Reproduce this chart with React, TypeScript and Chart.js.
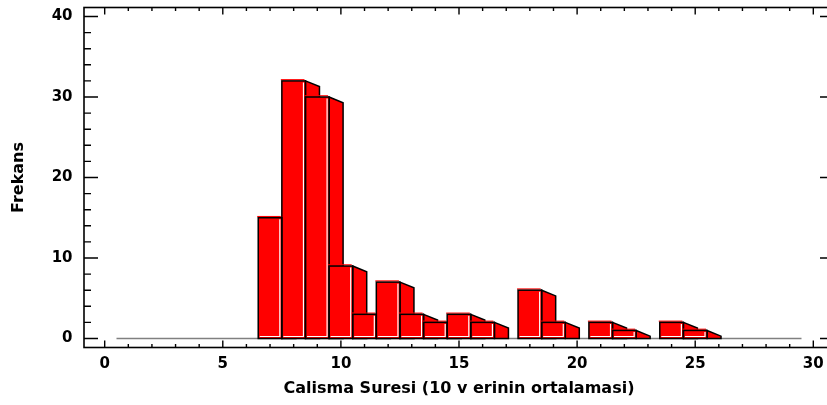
import { useEffect, useRef } from "react";
import { Chart, registerables } from "chart.js";

Chart.register(...registerables);

// Histogram classes: bin centres (class width 1) and their frequencies
const BIN_CENTERS = [1, 2, 3, 4, 5, 6, 7, 8, 9, 10, 11, 12, 13, 14, 15, 16, 17, 18, 19, 20, 21, 22, 23, 24, 25, 26, 27, 28, 29];
const FREQUENCIES = [0, 0, 0, 0, 0, 0, 15, 32, 30, 9, 3, 7, 3, 2, 3, 2, 0, 6, 2, 0, 2, 1, 0, 2, 1, 0, 0, 0, 0];
const BIN_WIDTH = 1;

// Axes
const X_TICKS = [0, 5, 10, 15, 20, 25, 30];
const Y_TICKS = [0, 10, 20, 30, 40];
const X_MINOR_STEP = 1;
const Y_MINOR_STEP = 2;
const X_RANGE = [-0.876, 30.876];
const Y_RANGE = [-1.12, 41.12];

const X_TITLE = "Calisma Suresi (10 v erinin ortalamasi)";
const Y_TITLE = "Frekans";

// Look
const CANVAS_W = 842;
const CANVAS_H = 405;
const PLOT_LEFT = 84;
const PLOT_TOP = 7.5;
const PLOT_RIGHT = 834;
const PLOT_BOTTOM = 347.5;
const RED = "#ff0000";
const INK = "#000000";
const ZERO_LINE = "#808080";
const DEPTH_X = 14;
const DEPTH_Y = 5.7;
const FONT_FAMILY = "'DejaVu Sans', 'Liberation Sans', Arial, sans-serif";
const TICK_FONT = { family: FONT_FAMILY, size: 15, weight: "bold" as const };
const TITLE_FONT = { family: FONT_FAMILY, size: 16, weight: "bold" as const };

const dropScalePadding = (scale: any) => {
  scale.paddingTop = 0;
  scale.paddingBottom = 0;
  scale.paddingLeft = 0;
  scale.paddingRight = 0;
};

const histogram3d = {
  id: "histogram3d",
  beforeDatasetsDraw(chart: any) {
    const { ctx } = chart;
    const x = chart.scales.x;
    const y = chart.scales.y;
    const lo = BIN_CENTERS[0] - BIN_WIDTH / 2;
    const hi = BIN_CENTERS[BIN_CENTERS.length - 1] + BIN_WIDTH / 2;
    ctx.save();
    // zero line over the whole class range
    ctx.strokeStyle = ZERO_LINE;
    ctx.lineWidth = 1.5;
    ctx.beginPath();
    ctx.moveTo(x.getPixelForValue(lo), y.getPixelForValue(0));
    ctx.lineTo(x.getPixelForValue(hi), y.getPixelForValue(0));
    ctx.stroke();

    // side faces, each one later hidden behind the next bar's front
    const meta = chart.getDatasetMeta(0);
    meta.data.forEach((bar: any, i: number) => {
      if (!FREQUENCIES[i]) return;
      const { x: cx, y: top, base, width } = bar.getProps(["x", "y", "base", "width"], true);
      const right = cx + width / 2;
      ctx.beginPath();
      ctx.moveTo(right, top);
      ctx.lineTo(right + DEPTH_X, Math.min(top + DEPTH_Y, base));
      ctx.lineTo(right + DEPTH_X, base);
      ctx.lineTo(right, base);
      ctx.closePath();
      ctx.fillStyle = RED;
      ctx.fill();
      ctx.strokeStyle = INK;
      ctx.lineWidth = 1.5;
      ctx.lineJoin = "miter";
      ctx.stroke();
    });
    ctx.restore();
  },
  afterDatasetsDraw(chart: any) {
    const { ctx } = chart;
    const meta = chart.getDatasetMeta(0);
    ctx.save();
    meta.data.forEach((bar: any, i: number) => {
      if (!FREQUENCIES[i]) return;
      const { x: cx, y: top, base, width } = bar.getProps(["x", "y", "base", "width"], true);
      const left = cx - width / 2;
      const right = cx + width / 2;
      // red lip above the top edge
      ctx.fillStyle = RED;
      ctx.fillRect(left - 1, top - 1.8, width, 1.2);
      // light edges on the right and bottom of the front face
      ctx.strokeStyle = "#ffffff";
      ctx.lineWidth = 1.2;
      ctx.beginPath();
      ctx.moveTo(right - 2, top + 1.5);
      ctx.lineTo(right - 2, base - 2);
      ctx.lineTo(left + 1.5, base - 2);
      ctx.stroke();
      // outline
      ctx.strokeStyle = INK;
      ctx.lineWidth = 1.5;
      ctx.strokeRect(left, top, width, base - top);
    });
    ctx.restore();
  },
  afterDraw(chart: any) {
    const { ctx, chartArea } = chart;
    const { left, right, top, bottom } = chartArea;
    const x = chart.scales.x;
    const y = chart.scales.y;
    ctx.save();
    ctx.strokeStyle = INK;
    ctx.lineWidth = 1.6;
    ctx.strokeRect(left, top, right - left, bottom - top);

    ctx.lineWidth = 1.4;
    ctx.beginPath();
    // x ticks, bottom and top edges, pointing inwards
    for (let v = Math.ceil(X_RANGE[0]); v <= X_RANGE[1]; v += X_MINOR_STEP) {
      const px = x.getPixelForValue(v);
      const len = X_TICKS.includes(v) ? 7 : 3.5;
      ctx.moveTo(px, bottom);
      ctx.lineTo(px, bottom - len);
      ctx.moveTo(px, top);
      ctx.lineTo(px, top + len);
    }
    // y ticks, left and right edges, pointing inwards
    for (let v = Math.ceil(Y_RANGE[0] / Y_MINOR_STEP) * Y_MINOR_STEP; v <= Y_RANGE[1]; v += Y_MINOR_STEP) {
      const py = y.getPixelForValue(v);
      const len = Y_TICKS.includes(v) ? 14 : 7;
      ctx.moveTo(left, py);
      ctx.lineTo(left + len, py);
      ctx.moveTo(right, py);
      ctx.lineTo(right - len, py);
    }
    ctx.stroke();
    ctx.restore();
  },
};

export default function App() {
  const canvasRef = useRef<HTMLCanvasElement | null>(null);

  useEffect(() => {
    const canvas = canvasRef.current;
    if (!canvas) return;
    const chart = new Chart(canvas, {
      type: "bar",
      data: {
        datasets: [
          {
            data: BIN_CENTERS.map((c, i) => ({ x: c, y: FREQUENCIES[i] })),
            backgroundColor: FREQUENCIES.map((f) => (f ? RED : "rgba(0,0,0,0)")),
            borderWidth: 0,
            inflateAmount: 0,
            barPercentage: 1,
            categoryPercentage: 1,
          },
        ],
      },
      options: {
        responsive: false,
        animation: false,
        events: [],
        layout: {
          padding: { left: 0, top: PLOT_TOP, right: CANVAS_W - PLOT_RIGHT, bottom: 0 },
        },
        plugins: {
          legend: { display: false },
          tooltip: { enabled: false },
        },
        scales: {
          x: {
            type: "linear",
            position: "bottom",
            min: X_RANGE[0],
            max: X_RANGE[1],
            offset: false,
            grid: { display: false, drawTicks: false },
            border: { display: false },
            afterBuildTicks: (scale: any) => {
              scale.ticks = X_TICKS.map((value) => ({ value }));
            },
            afterFit: (scale: any) => {
              scale.height = CANVAS_H - PLOT_BOTTOM;
              dropScalePadding(scale);
            },
            ticks: {
              font: TICK_FONT,
              color: INK,
              padding: 8,
              maxRotation: 0,
              autoSkip: false,
              callback: (v: any) => String(v),
            },
            title: {
              display: true,
              text: X_TITLE,
              font: TITLE_FONT,
              color: INK,
              padding: { top: 0, bottom: 7 },
            },
          },
          y: {
            type: "linear",
            position: "left",
            min: Y_RANGE[0],
            max: Y_RANGE[1],
            grid: { display: false, drawTicks: false },
            border: { display: false },
            afterBuildTicks: (scale: any) => {
              scale.ticks = Y_TICKS.map((value) => ({ value }));
            },
            afterFit: (scale: any) => {
              scale.width = PLOT_LEFT;
              dropScalePadding(scale);
            },
            ticks: {
              font: TICK_FONT,
              color: INK,
              padding: 11.5,
              autoSkip: false,
              callback: (v: any) => String(v),
            },
            title: {
              display: true,
              text: Y_TITLE,
              font: TITLE_FONT,
              color: INK,
              padding: { top: 9, bottom: 0 },
            },
          },
        },
      },
      plugins: [histogram3d],
    });
    return () => chart.destroy();
  }, []);

  return (
    <div
      style={{
        position: "absolute",
        left: 0,
        top: 0,
        width: 827,
        height: CANVAS_H,
        overflow: "hidden",
        background: "#ffffff",
      }}
    >
      <canvas ref={canvasRef} width={CANVAS_W} height={CANVAS_H} style={{ display: "block" }} />
    </div>
  );
}
